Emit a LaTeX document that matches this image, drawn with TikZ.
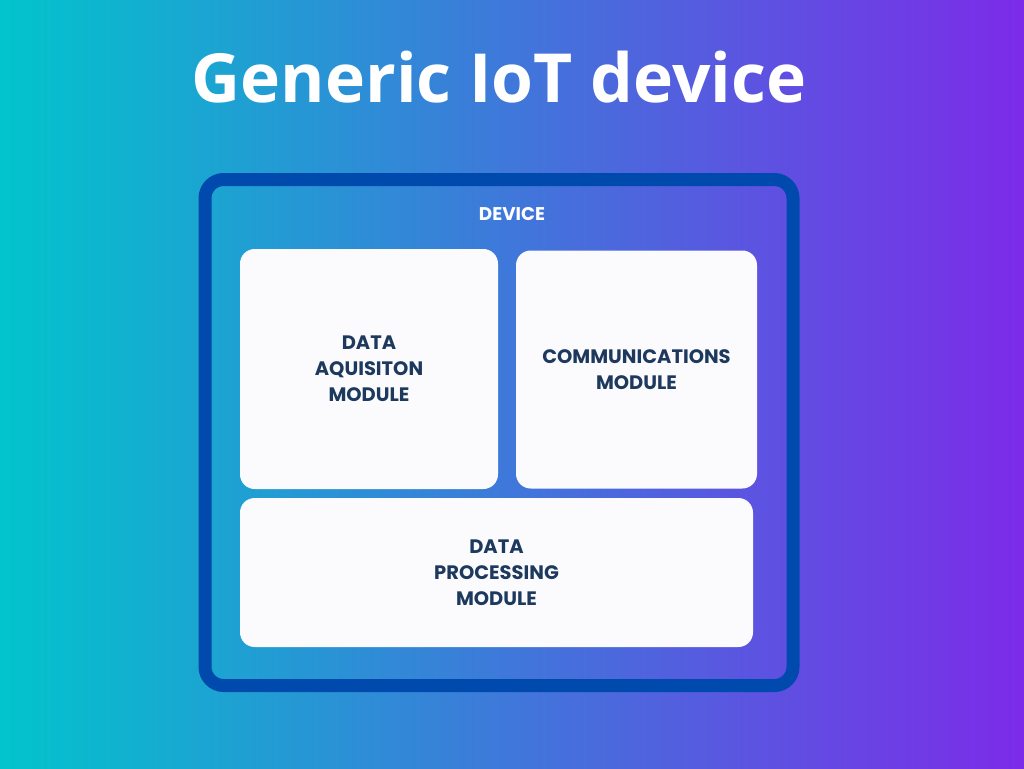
\documentclass[tikz,border=0pt]{standalone}
\usepackage{fontspec}
\setmainfont{Poppins}
\newfontfamily\titlefont{Open Sans}
\definecolor{bgL}{RGB}{2,196,204}
\definecolor{bgR}{RGB}{124,43,232}
\definecolor{frameC}{RGB}{0,74,173}
\definecolor{boxC}{RGB}{251,251,253}
\definecolor{txtC}{RGB}{30,57,94}
\tikzset{
  modbox/.style={draw=none, fill=boxC, rounded corners=11pt, align=center,
    text=txtC, font=\fontsize{14.6}{19.5}\selectfont\bfseries},
  frame/.style={draw=frameC, line width=9.75pt, rounded corners=14pt,
    minimum width=441pt, minimum height=379.5pt},
}
\begin{document}
\begin{tikzpicture}[x=0.75pt,y=-0.75pt]
\useasboundingbox (0,0) rectangle (1024,768);
\shade[left color=bgL, right color=bgR] (0,0) rectangle (1024,768);
\node[anchor=base, text=white, font=\titlefont\fontsize{50.8}{60}\selectfont\bfseries] (title) at (499,102) {Generic IoT device};
\node[frame] (device) at (499,432.5) {};
\node[anchor=base, text=white, font=\fontsize{13.8}{16}\selectfont\bfseries] (devlabel) at (512,220) {DEVICE};
\node[modbox, minimum width=193.5pt, minimum height=180pt] (acq) at (369,369) {DATA\\AQUISITON\\MODULE};
\node[modbox, minimum width=180.75pt, minimum height=178.5pt] (comm) at (636.5,369.5) {COMMUNICATIONS\\MODULE};
\node[modbox, minimum width=384.75pt, minimum height=111.75pt] (proc) at (496.5,572.5) {DATA\\PROCESSING\\MODULE};
\end{tikzpicture}
\end{document}
